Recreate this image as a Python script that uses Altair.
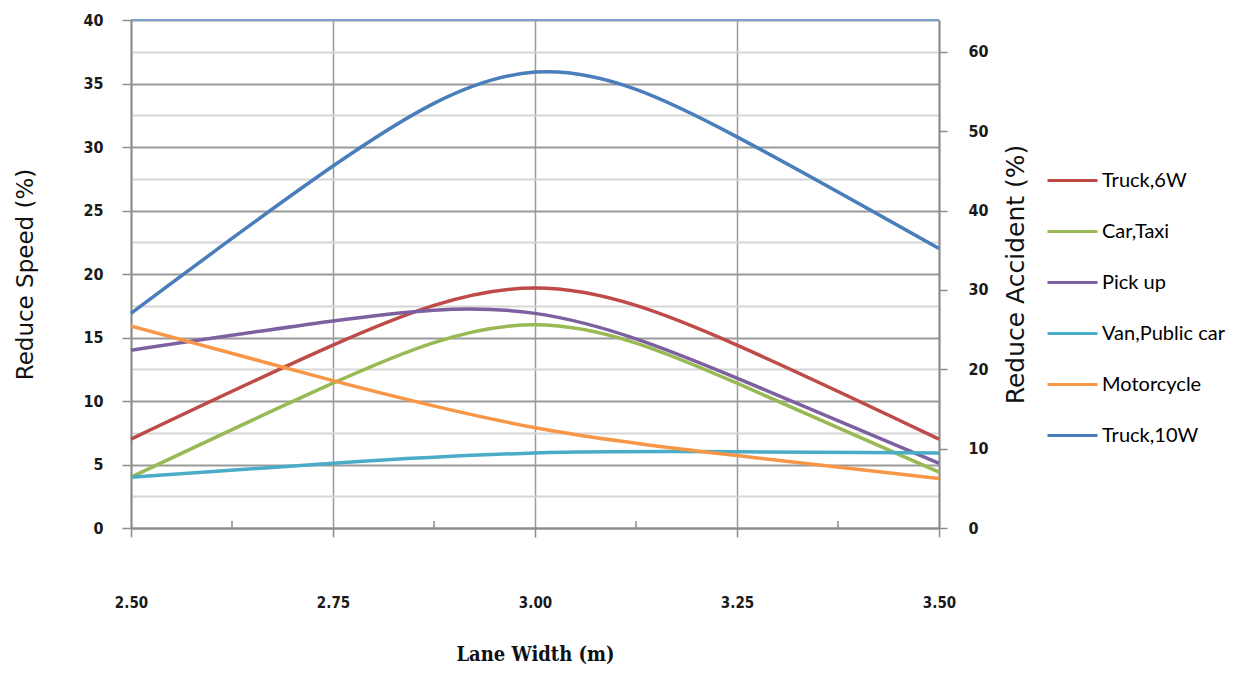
import altair as alt
import pandas as pd

lane_width = [2.50, 2.75, 3.00, 3.25, 3.50]
truck_6w = [7.0, 14.4, 18.9, 14.4, 7.0]
car_taxi = [4.0, 11.4, 16.0, 11.4, 4.4]
pick_up = [14.0, 16.3, 16.9, 11.8, 5.1]
van_public = [4.0, 5.1, 5.9, 6.0, 5.9]
motorcycle = [15.9, 11.6, 7.9, 5.7, 3.9]
truck_10w = [16.9, 28.5, 35.9, 30.8, 22.0]

series_names = ["Truck,6W", "Car,Taxi", "Pick up", "Van,Public car", "Motorcycle", "Truck,10W"]
series_colors = ["#BE4B48", "#98B954", "#7D60A0", "#4AACC6", "#F79646", "#4A7EBB"]
speed_ticks = [i * 2.5 for i in range(17)]
accident_ticks = [0, 10, 20, 30, 40, 50, 60]
minor_x = [2.625, 2.875, 3.125, 3.375]
top_line = [40]

rows = []
for name, vals in zip(series_names, [truck_6w, car_taxi, pick_up, van_public, motorcycle, truck_10w]):
    for xv, v in zip(lane_width, vals):
        rows.append({"Lane Width": xv, "Reduce Speed": v, "Series": name})
df = pd.DataFrame(rows)

label_font = "Liberation Sans Narrow, DejaVu Sans Condensed, Liberation Sans, sans-serif"
xtitle_font = "DejaVu Serif Condensed, DejaVu Serif, serif"
ytitle_font = "DejaVu Sans, Verdana, sans-serif"
axis_gray = "#8c8c8c"

x_scale = alt.Scale(domain=[2.5, 3.5], nice=False, zero=False)
y_scale = alt.Scale(domain=[0, 40], nice=False)

x_axis = alt.Axis(
    values=lane_width, format=".2f", title="Lane Width (m)",
    grid=True, gridColor="#9a9a9a", gridWidth=1.5,
    domainColor=axis_gray, domainWidth=2, tickColor=axis_gray, tickWidth=1.5, tickSize=9,
    labelFont=label_font, labelFontSize=15, labelFontWeight="bold", labelColor="#1a1a1a",
    labelPadding=58, labelFlush=False,
    titleFont=xtitle_font, titleFontSize=20, titleFontWeight="bold", titleColor="#111",
    titlePadding=34,
)

y_axis = alt.Axis(
    values=speed_ticks, title="Reduce Speed (%)",
    labelExpr="datum.value % 5 === 0 ? datum.label : ''",
    grid=True,
    gridColor={"condition": {"test": "datum.value % 5 === 0", "value": "#9a9a9a"}, "value": "#d6d6d6"},
    gridWidth=1.8,
    tickColor={"condition": {"test": "datum.value % 5 === 0", "value": axis_gray}, "value": "transparent"},
    domainColor=axis_gray, domainWidth=2, tickWidth=1.5, tickSize=9,
    labelFont=label_font, labelFontSize=16, labelFontWeight="bold", labelColor="#1a1a1a",
    labelPadding=19,
    titleFont=ytitle_font, titleFontSize=23, titleFontWeight="normal", titleColor="#111",
    titlePadding=45,
)

lines = alt.Chart(df).mark_line(interpolate="natural", strokeWidth=3.5).encode(
    x=alt.X("Lane Width:Q", scale=x_scale, axis=x_axis),
    y=alt.Y("Reduce Speed:Q", scale=y_scale, axis=y_axis),
    color=alt.Color(
        "Series:N",
        scale=alt.Scale(domain=series_names, range=series_colors),
        sort=series_names,
        legend=alt.Legend(
            title=None, orient="none", legendX=915, legendY=134, padding=0,
            symbolType="stroke", symbolSize=2500, symbolStrokeWidth=3,
            labelFont="Lato", labelFontSize=20, labelColor="#000", labelOffset=3,
            rowPadding=14,
        ),
    ),
)

top_rule = alt.Chart(pd.DataFrame({"Reduce Speed": top_line})).mark_rule(color="#7f9fcf", strokeWidth=2).encode(
    y=alt.Y("Reduce Speed:Q", scale=y_scale, axis=y_axis)
)

minor_ticks = alt.Chart(pd.DataFrame({"Lane Width": minor_x})).mark_rule(color=axis_gray, strokeWidth=1.5).encode(
    x=alt.X("Lane Width:Q", scale=x_scale, axis=x_axis),
    y=alt.value(508),
    y2=alt.value(501),
)

inner = alt.layer(lines, top_rule, minor_ticks)

right_axis = alt.Chart(pd.DataFrame({"acc": [0, 64]})).mark_point(opacity=0).encode(
    x=alt.value(0),
    y=alt.Y(
        "acc:Q",
        scale=alt.Scale(domain=[0, 64], nice=False),
        axis=alt.Axis(
            orient="right", values=accident_ticks, title="Reduce Accident (%)",
            grid=False, domainColor=axis_gray, domainWidth=2, tickColor=axis_gray,
            tickWidth=1.5, tickSize=8,
            labelFont=label_font, labelFontSize=16, labelFontWeight="bold", labelColor="#1a1a1a",
            labelPadding=21,
            titleFont=ytitle_font, titleFontSize=25, titleFontWeight="normal", titleColor="#111",
            titleAngle=270, titlePadding=40,
        ),
    ),
)

chart = alt.layer(inner, right_axis).resolve_scale(y="independent").properties(
    width=808, height=508,
    padding={"left": 123, "top": 12, "right": 291, "bottom": 138},
    autosize=alt.AutoSizeParams(type="none"),
    background="white",
).configure_view(stroke=None)

chart.save("out.html", embed_options={"renderer": "svg", "actions": False})
